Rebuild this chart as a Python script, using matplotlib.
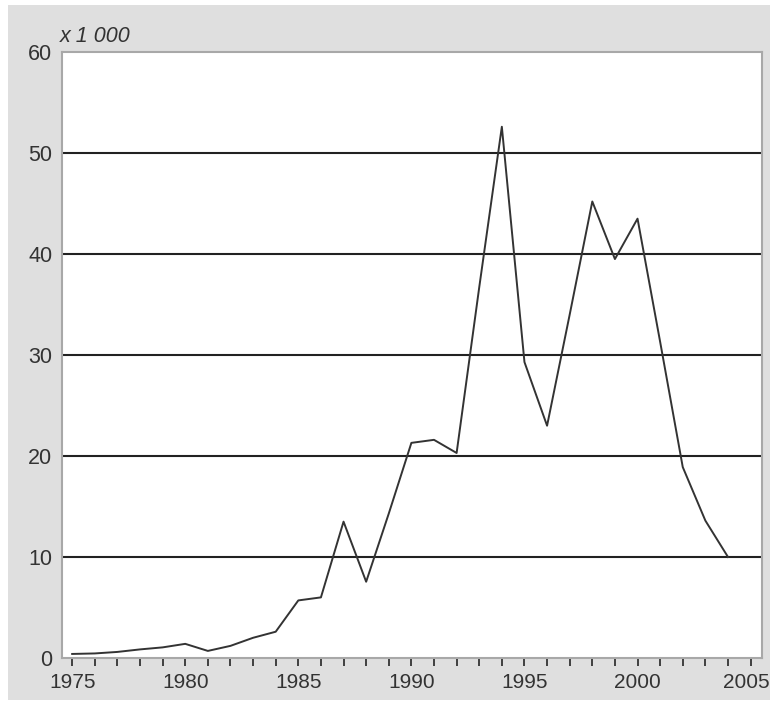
import matplotlib
matplotlib.use("Agg")
import matplotlib.pyplot as plt
from matplotlib.patches import Rectangle
from matplotlib.ticker import MultipleLocator
from matplotlib.transforms import ScaledTranslation

# jaarlijkse waarden (x 1 000)
years = list(range(1975, 2005))
values = [0.4, 0.45, 0.6, 0.85, 1.05, 1.4, 0.7, 1.2, 2.0, 2.6,
          5.7, 6.0, 13.5, 7.55, 14.3, 21.3, 21.6, 20.3, 36.7, 52.6,
          29.3, 23.0, 34.0, 45.2, 39.5, 43.5, 31.3, 18.9, 13.6, 10.0]
yticks = [0, 10, 20, 30, 40, 50, 60]
xticks = [1975, 1980, 1985, 1990, 1995, 2000, 2005]

plt.rcParams['font.family'] = ['Liberation Sans', 'DejaVu Sans']

fig = plt.figure(figsize=(7.7, 7.02), dpi=100, facecolor='white')
# grijze achtergrond
fig.patches.append(Rectangle((8 / 770, 2 / 702), 762 / 770, 695 / 702,
                             transform=fig.transFigure, facecolor='#dfdfdf',
                             edgecolor='none', zorder=-10))

ax = fig.add_axes([0.0805, 0.0627, 0.909, 0.8632])
ax.set_facecolor('white')

for y in yticks[1:-1]:
    ax.axhline(y, color='#222222', lw=1.5, zorder=1)

ax.plot(years, values, color='#333333', lw=1.4, zorder=2)

ax.set_xlim(1974.55, 2005.5)
ax.set_ylim(0, 60)
ax.set_xticks(xticks)
ax.xaxis.set_minor_locator(MultipleLocator(1))
ax.set_yticks(yticks)

for s in ax.spines.values():
    s.set_color('#a8a8a8')
    s.set_linewidth(1.5)

ax.tick_params(axis='x', which='both', direction='out', length=6, width=1.3,
               color='#333333', labelsize=15, labelcolor='#333333', pad=5)
ax.tick_params(axis='y', length=0, labelsize=15.5, labelcolor='#333333', pad=7)

# laatste jaartal iets naar links zodat het binnen de rand blijft
last = ax.get_xticklabels()[-1]
last.set_transform(last.get_transform() + ScaledTranslation(-4 / 100, 0, fig.dpi_scale_trans))

fig.text(60 / 770, 1 - 42 / 702, 'x 1 000', fontsize=15.5, style='italic',
         color='#333333', ha='left', va='baseline')

plt.savefig('out.png', dpi=100, facecolor='white')
